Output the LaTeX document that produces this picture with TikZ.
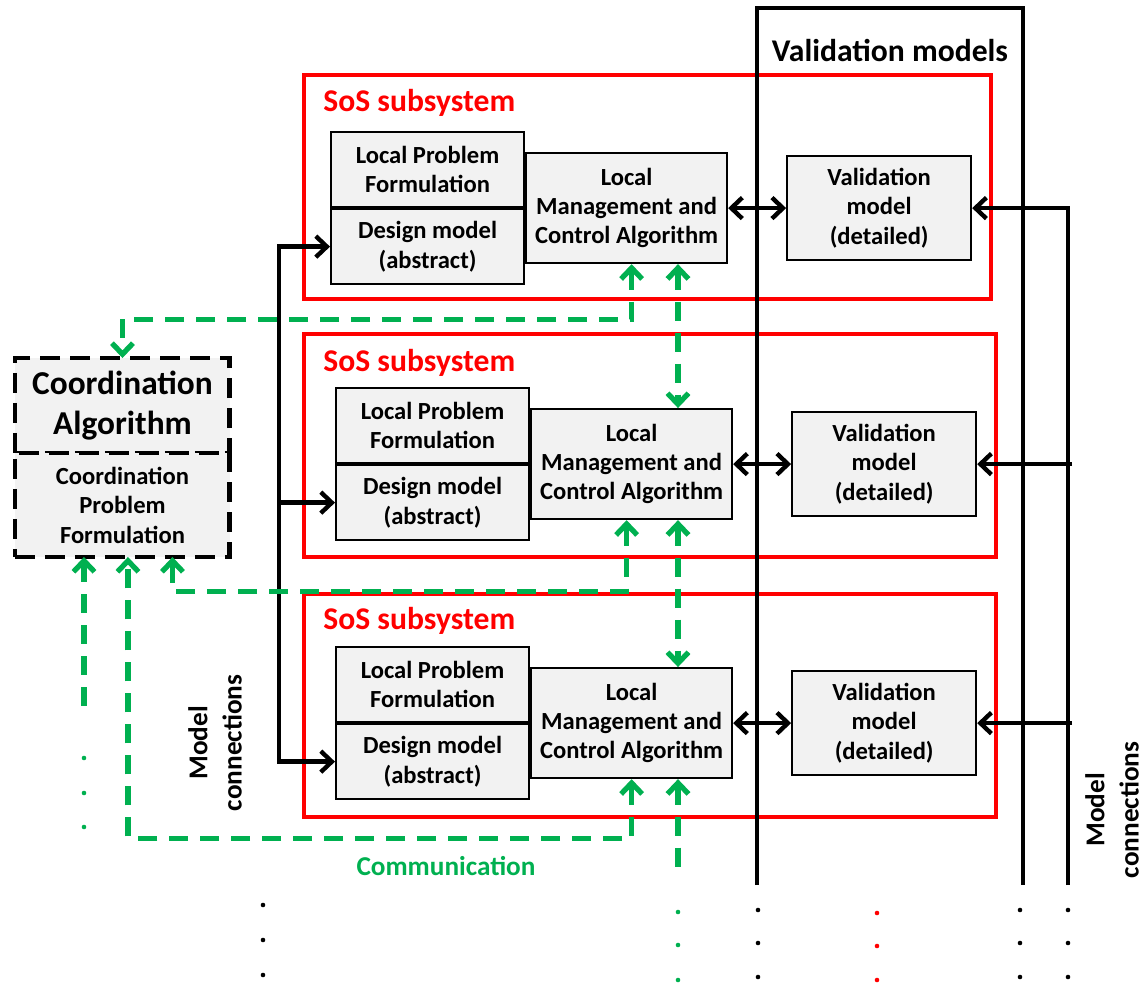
\documentclass[tikz,border=0pt]{standalone}
\usepackage{fontspec}
\setmainfont{Carlito}
\usetikzlibrary{arrows.meta,positioning}
\definecolor{sosred}{RGB}{255,0,0}
\definecolor{commgreen}{RGB}{0,176,80}
\definecolor{boxgray}{RGB}{242,242,242}
\begin{document}
\begin{tikzpicture}[x=0.02cm,y=-0.02cm,font=\bfseries,
>={Straight Barb[length=2.2mm,width=4.2mm]},
lbox/.style={draw,line width=1.2pt,fill=boxgray,align=center,inner sep=1pt,font=\fontsize{14}{16.6}\selectfont\bfseries,minimum width=3.86cm,minimum height=1.5cm},
lmbox/.style={lbox,minimum width=4.02cm,minimum height=2.2cm},
valbox/.style={lbox,minimum width=3.68cm,minimum height=2.07cm},
cabox/.style={draw,line width=2.8pt,dash pattern=on 0.4cm off 0.2cm,fill=boxgray,align=center,outer sep=0pt,minimum width=4.3cm},
sosbox/.style={draw=sosred,line width=2pt},
sostitle/.style={text=sosred,anchor=west,inner sep=0pt,font=\fontsize{18}{21}\selectfont\bfseries},
mctext/.style={align=center,rotate=90,font=\fontsize{15.5}{19.5}\selectfont\bfseries},
commtext/.style={text=commgreen,font=\fontsize{15.5}{18}\selectfont\bfseries},
blk/.style={line width=2.5pt},
barr/.style={blk,->},
gline/.style={draw=commgreen,line width=3pt,dash pattern=on 0.38cm off 0.24cm},
dotk/.style={fill=black},
dotg/.style={fill=commgreen},
dotr/.style={fill=sosred}]
\useasboundingbox (0,0) rectangle (1147,985);
% subsystem frames
\draw[sosbox] (304,75) rectangle (991,299);
\draw[sosbox] (304,334) rectangle (996,557);
\draw[sosbox] (304,594) rectangle (996,817);
% validation column
\draw[blk] (757,885) -- (757,8) -- (1023,8) -- (1023,885);
\node[font=\fontsize{18}{21}\selectfont\bfseries] (valtitle) at (890,50) {Validation models};
% subsystem 1
\node[sostitle] (sos1) at (323,103) {SoS subsystem};
\node[lbox,anchor=north west] (lpf1) at (330,131) {Local Problem\\Formulation};
\node[lbox,below=0pt of lpf1] (dm1) {Design model\\(abstract)};
\node[lmbox,right=0pt of lpf1.south east] (lmc1) {Local\\Management and\\Control Algorithm};
\node[valbox,right=1.16cm of lmc1] (val1) {Validation\\model\\(detailed)};
\draw[blk,<->] (lmc1) -- (val1);
% subsystem 2
\node[sostitle] (sos2) at (323,363) {SoS subsystem};
\node[lbox,anchor=north west] (lpf2) at (335,387) {Local Problem\\Formulation};
\node[lbox,below=0pt of lpf2] (dm2) {Design model\\(abstract)};
\node[lmbox,right=0pt of lpf2.south east] (lmc2) {Local\\Management and\\Control Algorithm};
\node[valbox,right=1.16cm of lmc2] (val2) {Validation\\model\\(detailed)};
\draw[blk,<->] (lmc2) -- (val2);
% subsystem 3
\node[sostitle] (sos3) at (323,621) {SoS subsystem};
\node[lbox,anchor=north west] (lpf3) at (335,646) {Local Problem\\Formulation};
\node[lbox,below=0pt of lpf3] (dm3) {Design model\\(abstract)};
\node[lmbox,right=0pt of lpf3.south east] (lmc3) {Local\\Management and\\Control Algorithm};
\node[valbox,right=1.16cm of lmc3] (val3) {Validation\\model\\(detailed)};
\draw[blk,<->] (lmc3) -- (val3);
% coordination
\node[cabox,anchor=north west,minimum height=1.9cm,font=\fontsize{19}{23}\selectfont\bfseries] (coordalg) at (15,358) {Coordination\\Algorithm};
\node[cabox,below=0pt of coordalg,minimum height=2.08cm,font=\fontsize{14}{16.8}\selectfont\bfseries] (coordpf) {Coordination\\Problem\\Formulation};
% model connections
\coordinate (mcl) at (279,0);
\coordinate (mcr) at (1068,885);
\draw[blk,<->] (dm1.west) -- (mcl |- dm1.west) -- (mcl |- dm3.west) -- (dm3.west);
\draw[barr] (mcl |- dm2.west) -- (dm2.west);
\draw[blk,->] (mcr) -- (mcr |- val1.east) -- (val1.east);
\draw[barr,shorten <=-0.08cm] (mcr |- val2.east) -- (val2.east);
\draw[barr,shorten <=-0.08cm] (mcr |- val3.east) -- (val3.east);
\node[mctext] (mcleft) at (215,743) {Model\\connections};
\node[mctext] (mcright) at (1112,810) {Model\\connections};
% communication
\coordinate (cx) at (678,0);
\draw[gline,<->] ([xshift=.1cm]lmc1.south) -- ++(0,55) -| (coordalg.north);
\draw[gline,<->] (lmc1.south -| cx) -- (lmc2.north -| cx);
\draw[gline,<->] ([xshift=-.1cm]lmc2.south) -- ++(0,71) -| ([xshift=1cm]coordpf.south);
\draw[gline,<->] (lmc2.south -| cx) -- (lmc3.north -| cx);
\draw[gline,<->] (lmc3.south) -- ++(0,59) -| ([xshift=.11cm]coordpf.south);
\draw[gline,<-] (lmc3.south -| cx) -- ++(0,97);
\draw[gline,<-] ([xshift=-.77cm]coordpf.south) -- ++(0,160);
\node[commtext] (commlabel) at (446,866) {Communication};
% continuation dots
\fill[dotg] (84,758) circle (1.3pt) (84,793) circle (1.3pt) (84,827) circle (1.3pt);
\fill[dotk] (263,905) circle (1.3pt) (263,940) circle (1.3pt) (263,975) circle (1.3pt);
\fill[dotg] (678,912) circle (1.3pt) (678,945) circle (1.3pt) (678,980) circle (1.3pt);
\fill[dotk] (758,910) circle (1.3pt) (758,943) circle (1.3pt) (758,977) circle (1.3pt);
\fill[dotr] (877,913) circle (1.3pt) (877,946) circle (1.3pt) (877,980) circle (1.3pt);
\fill[dotk] (1020,910) circle (1.3pt) (1020,943) circle (1.3pt) (1020,977) circle (1.3pt);
\fill[dotk] (1068,910) circle (1.3pt) (1068,943) circle (1.3pt) (1068,977) circle (1.3pt);
\end{tikzpicture}
\end{document}
